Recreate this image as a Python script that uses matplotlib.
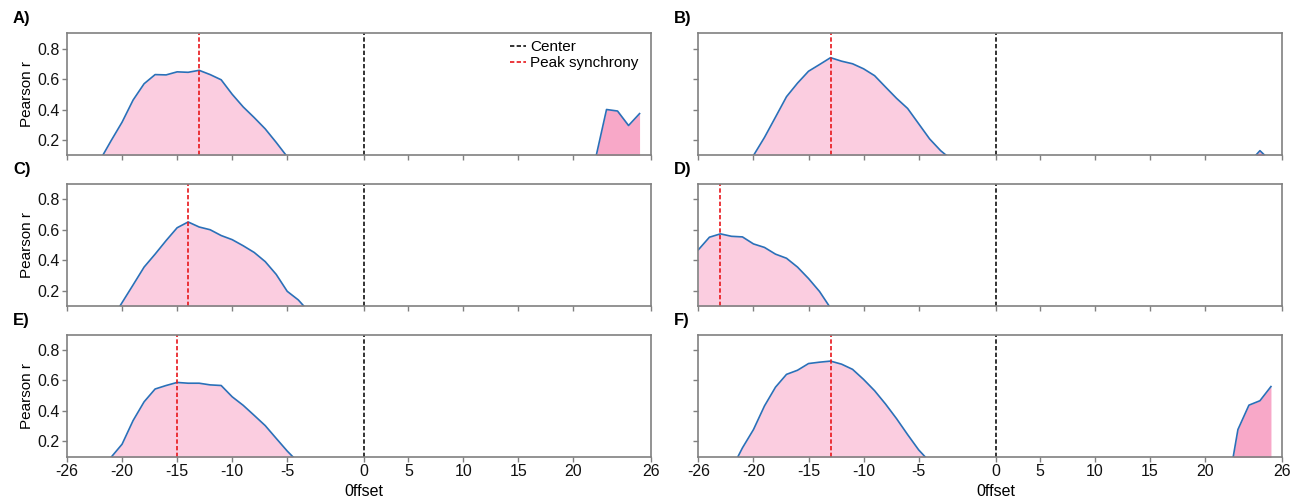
import numpy as np
import matplotlib.pyplot as plt

plt.rcParams['font.family'] = ['Liberation Sans', 'DejaVu Sans']

# cross-correlation at lags -26..26, plotted by index 0..52
lags = np.arange(53)
center = 27
tick_pos = [0, 5, 10, 15, 20, 27, 31, 36, 41, 46, 53]
tick_labels = ['-26', '-20', '-15', '-10', '-5', '0', '5', '10', '15', '20', '26']

r_a = [-0.05, -0.02, 0.03, 0.068, 0.195, 0.317, 0.462, 0.569, 0.629, 0.627,
       0.647, 0.644, 0.657, 0.629, 0.595, 0.50, 0.417, 0.347, 0.273, 0.184,
       0.09, 0.02, -0.04, -0.08, -0.11, -0.13, -0.12, -0.1, -0.08, -0.07,
       -0.09, -0.12, -0.14, -0.13, -0.1, -0.08, -0.06, -0.07, -0.09, -0.1,
       -0.08, -0.05, -0.03, -0.04, -0.02, 0.0, 0.02, 0.03, 0.077, 0.40,
       0.39, 0.295, 0.373]
r_b = [-0.1, -0.05, 0.0, 0.03, 0.0, 0.098, 0.217, 0.35, 0.484, 0.573,
       0.651, 0.695, 0.74, 0.717, 0.70, 0.667, 0.622, 0.547, 0.473, 0.407,
       0.307, 0.207, 0.13, 0.07, 0.0, -0.05, -0.08, -0.1, -0.11, -0.12,
       -0.1, -0.09, -0.07, -0.06, -0.05, -0.06, -0.07, -0.05, -0.04, -0.03,
       -0.02, -0.03, -0.04, -0.02, 0.0, 0.02, 0.03, 0.04, 0.05, 0.06,
       0.05, 0.13, 0.06]
r_c = [-0.1, -0.08, -0.05, -0.02, 0.006, 0.122, 0.238, 0.355, 0.44, 0.529,
       0.613, 0.651, 0.618, 0.60, 0.562, 0.535, 0.495, 0.451, 0.391, 0.307,
       0.196, 0.14, 0.06, 0.0, -0.04, -0.07, -0.09, -0.1, -0.12, -0.13,
       -0.12, -0.1, -0.09, -0.08, -0.07, -0.06, -0.05, -0.06, -0.07, -0.08,
       -0.06, -0.05, -0.04, -0.03, -0.02, -0.03, -0.02, -0.01, 0.0, 0.01,
       0.0, -0.01, -0.02]
r_d = [0.469, 0.551, 0.573, 0.557, 0.553, 0.507, 0.484, 0.44, 0.413, 0.355,
       0.28, 0.195, 0.086, 0.0, -0.05, -0.08, -0.1, -0.12, -0.13, -0.14,
       -0.15, -0.14, -0.13, -0.12, -0.1, -0.09, -0.08, -0.07, -0.06, -0.05,
       -0.06, -0.07, -0.08, -0.07, -0.06, -0.05, -0.04, -0.05, -0.06, -0.05,
       -0.04, -0.03, -0.02, -0.01, 0.0, 0.01, 0.02, 0.01, 0.0, -0.01,
       -0.02, -0.01, 0.0]
r_e = [-0.08, -0.05, 0.0, 0.03, 0.096, 0.182, 0.337, 0.46, 0.544, 0.567,
       0.587, 0.582, 0.582, 0.571, 0.567, 0.493, 0.437, 0.371, 0.304, 0.22,
       0.137, 0.063, 0.0, -0.04, -0.07, -0.09, -0.1, -0.11, -0.1, -0.09,
       -0.08, -0.09, -0.1, -0.08, -0.06, -0.05, -0.04, -0.05, -0.06, -0.04,
       -0.03, -0.02, -0.03, -0.02, -0.01, 0.0, 0.01, 0.0, -0.01, 0.0,
       0.01, 0.02, 0.01]
r_f = [-0.1, -0.06, -0.02, 0.017, 0.158, 0.278, 0.433, 0.556, 0.64, 0.667,
       0.711, 0.72, 0.727, 0.707, 0.673, 0.607, 0.533, 0.445, 0.349, 0.245,
       0.145, 0.067, 0.0, -0.05, -0.09, -0.12, -0.14, -0.15, -0.14, -0.13,
       -0.12, -0.1, -0.09, -0.1, -0.12, -0.14, -0.16, -0.17, -0.18, -0.2,
       -0.22, -0.24, -0.25, -0.26, -0.24, -0.22, -0.2, -0.18, -0.14, 0.278,
       0.438, 0.467, 0.56]

panels = [('A)', r_a), ('B)', r_b), ('C)', r_c), ('D)', r_d), ('E)', r_e), ('F)', r_f)]

light_pink = '#fbcde0'
dark_pink = '#f8a8c8'
spine_col = '#808080'

fig, axes = plt.subplots(3, 2, figsize=(13.04, 4.99), dpi=100)
plt.subplots_adjust(left=0.0514, right=0.9831, top=0.9333, bottom=0.0848,
                    wspace=0.082, hspace=0.236)

for k, (ax, (name, r)) in enumerate(zip(axes.flat, panels)):
    r = np.array(r)
    row, col = divmod(k, 2)
    ax.fill_between(lags, r, where=lags < center, color=light_pink, lw=0)
    ax.fill_between(lags, r, where=lags > center, color=dark_pink, lw=0)
    ax.plot(lags, r, color='#2a70b8', lw=1.2)
    ax.axvline(center, color='#111111', ls=(0, (2.6, 1.4)), lw=1.2, label='Center')
    ax.axvline(np.argmax(r), color='#e8161b', ls=(0, (2.6, 1.4)), lw=1.2,
               label='Peak synchrony')
    ax.set_xlim(0, 53)
    ax.set_ylim(0.1, 0.9)
    ax.set_yticks([0.2, 0.4, 0.6, 0.8])
    ax.set_xticks(tick_pos)
    for s in ax.spines.values():
        s.set_color(spine_col)
        s.set_linewidth(1.2)
    ax.tick_params(colors=spine_col, labelcolor='#111111', labelsize=11.5,
                   length=3.5, width=1, pad=2)
    if row == 2:
        ax.set_xticklabels(tick_labels)
        ax.set_xlabel('0ffset', fontsize=11.5)
        ax.xaxis.set_label_coords(center / 53, -0.22)
    else:
        ax.set_xticklabels([])
    if col == 0:
        ax.set_ylabel('Pearson r', fontsize=11, labelpad=2)
    else:
        ax.set_yticklabels([])
    if k == 0:
        ax.legend(loc='upper right', bbox_to_anchor=(0.99, 0.995), frameon=False,
                  fontsize=11, handlelength=1.1, handletextpad=0.25,
                  labelspacing=0.15, borderaxespad=0.0)
    pos = ax.get_position()
    fig.text(0.01 if col == 0 else 0.517, pos.y1 + 0.0295, name, fontsize=12,
             fontweight='bold', va='center', ha='left')

fig.savefig('out.png', dpi=100)
